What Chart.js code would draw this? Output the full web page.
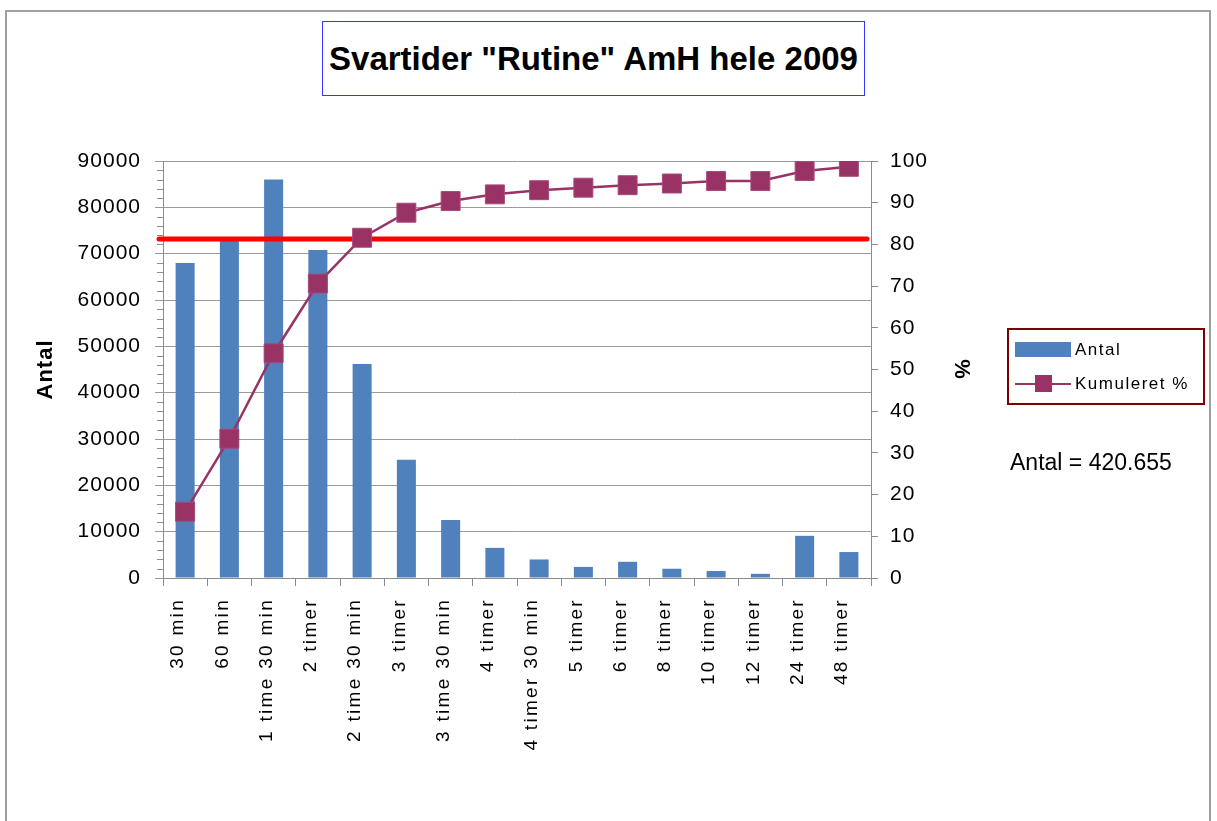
<!DOCTYPE html>
<html>
<head>
<meta charset="utf-8">
<script src="https://cdn.jsdelivr.net/npm/chart.js@4"></script>
<style>
    html, body { margin: 0; padding: 0; background: #fff; }
    body { width: 1217px; height: 821px; position: relative; overflow: hidden; font-family: "Liberation Sans", Arial, sans-serif; }
    #frame { position: absolute; left: 5px; top: 10px; width: 1206px; height: 830px; border: 2px solid #a0a0a0; box-sizing: border-box; }
    #titleBox { position: absolute; left: 322px; top: 21px; width: 543px; height: 75px; border: 1px solid #3535ff; box-sizing: border-box;
        display: flex; align-items: center; justify-content: center; white-space: nowrap;
        font-family: "Liberation Sans", Arial, sans-serif; font-weight: bold; font-size: 33px; color: #000; }
    #chartCanvas { position: absolute; left: 0; top: 0; }
    #legendBox { position: absolute; left: 1007px; top: 328px; width: 198px; height: 77px; border: 2px solid #7b0000; box-sizing: border-box; }
    .legend-item { position: absolute; left: 6px; height: 20px; font-size: 17px; letter-spacing: 1.5px; color: #000; }
    .legend-item span { position: absolute; left: 60px; top: 0; white-space: nowrap; line-height: 20px; }
    #totalText { position: absolute; left: 1010px; top: 449px; font-size: 23px; color: #000; white-space: nowrap; }
</style>
</head>
<body>
<div id="frame"></div>
<div id="titleBox">Svartider "Rutine" AmH hele 2009</div>
<canvas id="chartCanvas" width="1217" height="821"></canvas>
<div id="legendBox"></div>
<div id="totalText">Antal = 420.655</div>
<script>
    // --- Data ---
    const categories = ['30 min', '60 min', '1 time 30 min', '2 timer', '2 time 30 min', '3 timer', '3 time 30 min',
        '4 timer', '4 timer 30 min', '5 timer', '6 timer', '8 timer', '10 timer', '12 timer', '24 timer', '48 timer'];
    const antal = [68000, 73000, 86000, 70800, 46200, 25500, 12500, 6500, 4000, 2400, 3500, 2000, 1500, 900, 9100, 5600];
    const kumuleret = [15.9, 33.4, 53.9, 70.6, 81.6, 87.6, 90.4, 92.0, 93.0, 93.6, 94.2, 94.6, 95.2, 95.2, 97.6, 98.6];
    const targetLine = 81.3;   // red reference line, on the % axis
    const leftTicks = { min: 0, max: 90000, step: 10000, minorStep: 2000 };
    const rightTicks = { min: 0, max: 100, step: 10 };

    const barColor = '#4f81bd';
    const lineColor = '#993366';
    const axisColor = '#8c8c8c';
    const fontFamily = '"Liberation Sans", Arial, sans-serif';
    const tickFont = { family: fontFamily, size: 21 };
    const catFont = { family: fontFamily, size: 19 };

    // --- Plugins ---
    // Excel-like wide text: 1px everywhere, wider for the category labels
    const spacingPlugin = {
        id: 'spacing',
        beforeUpdate(chart) { chart.ctx.letterSpacing = '1px'; },
        beforeDraw(chart) { chart.ctx.letterSpacing = '1px'; },
        afterUpdate(chart) {
            const xScale = chart.scales.x;
            if (xScale._spaced) return;
            const baseDraw = xScale.drawLabels;
            xScale.drawLabels = function (area) {
                chart.ctx.letterSpacing = '2.3px';
                baseDraw.call(this, area);
                chart.ctx.letterSpacing = '1px';
            };
            xScale._spaced = true;
        }
    };

    const extrasPlugin = {
        id: 'extras',
        beforeDatasetDraw(chart, args) {
            if (args.index !== 1) return;
            const ctx = chart.ctx;
            const y = chart.scales.y2.getPixelForValue(targetLine);
            ctx.save();
            ctx.strokeStyle = '#ff0000';
            ctx.lineWidth = 5;
            ctx.lineCap = 'round';
            ctx.beginPath();
            ctx.moveTo(chart.chartArea.left - 4, y);
            ctx.lineTo(chart.chartArea.right - 4, y);
            ctx.stroke();
            ctx.restore();
        },
        afterDraw(chart) {
            // minor ticks on the left axis
            const ctx = chart.ctx;
            const scale = chart.scales.y;
            const x = chart.chartArea.left;
            ctx.save();
            ctx.strokeStyle = axisColor;
            ctx.lineWidth = 1;
            ctx.beginPath();
            for (let v = leftTicks.min; v <= leftTicks.max; v += leftTicks.minorStep) {
                if (v % leftTicks.step === 0) continue;
                const py = Math.round(scale.getPixelForValue(v)) + 0.5;
                ctx.moveTo(x - 6, py);
                ctx.lineTo(x, py);
            }
            ctx.stroke();
            ctx.restore();
        }
    };

    // --- Chart ---
    const chartCanvas = document.getElementById('chartCanvas');
    const chartInstance = new Chart(chartCanvas, {
        type: 'bar',
        data: {
            labels: categories,
            datasets: [
                {
                    label: 'Antal',
                    data: antal,
                    backgroundColor: barColor,
                    yAxisID: 'y',
                    barPercentage: 0.43,
                    categoryPercentage: 1,
                    order: 2
                },
                {
                    type: 'line',
                    label: 'Kumuleret %',
                    data: kumuleret,
                    borderColor: lineColor,
                    borderWidth: 2.5,
                    backgroundColor: lineColor,
                    pointStyle: 'rect',
                    pointRadius: 13.4,
                    pointBorderColor: '#a8497a',
                    pointBorderWidth: 1,
                    yAxisID: 'y2',
                    tension: 0,
                    order: 1
                }
            ]
        },
        options: {
            responsive: false,
            animation: false,
            layout: { padding: { left: 33, right: 243, top: 161, bottom: 0 } },
            plugins: {
                legend: { display: false },
                tooltip: { enabled: false }
            },
            scales: {
                x: {
                    grid: { display: true, drawOnChartArea: false, drawTicks: true, tickLength: 8, color: axisColor, offset: true },
                    border: { display: true, color: axisColor, width: 1 },
                    ticks: { color: '#000', font: catFont, maxRotation: 90, minRotation: 90, autoSkip: false, padding: 12, labelOffset: -7 },
                    afterFit: (scale) => { scale.height = 243; }
                },
                y: {
                    position: 'left',
                    min: leftTicks.min,
                    max: leftTicks.max,
                    grid: { color: '#9a9a9a', tickLength: 8, drawTicks: true },
                    border: { display: true, color: axisColor },
                    ticks: { stepSize: leftTicks.step, color: '#000', font: tickFont, padding: 14, callback: (value) => String(value) },
                    title: {
                        display: true, text: 'Antal', color: '#000', padding: 0,
                        font: { family: fontFamily, size: 22, weight: 'bold' }
                    },
                    afterFit: (scale) => { scale.width = 130; }
                },
                y2: {
                    position: 'right',
                    min: rightTicks.min,
                    max: rightTicks.max,
                    grid: { drawOnChartArea: false, tickLength: 7, color: axisColor },
                    border: { display: true, color: axisColor },
                    ticks: { stepSize: rightTicks.step, color: '#000', font: tickFont, padding: 12, callback: (value) => String(value) },
                    title: {
                        display: true, text: '%', color: '#000', padding: 0,
                        font: { family: fontFamily, size: 22, weight: 'bold' }
                    },
                    afterFit: (scale) => { scale.width = 103; }
                }
            }
        },
        plugins: [spacingPlugin, extrasPlugin]
    });

    // --- Legend (built from the datasets) ---
    const legendBox = document.getElementById('legendBox');
    chartInstance.data.datasets.forEach((ds, i) => {
        const item = document.createElement('div');
        item.className = 'legend-item';
        item.style.top = (i === 0 ? 10 : 44) + 'px';
        item.style.width = '186px';
        let swatch;
        if (ds.type === 'line') {
            swatch = `<div style="position:absolute;left:0;top:9px;width:56px;height:2px;background:${ds.borderColor}"></div>` +
                `<div style="position:absolute;left:20px;top:1px;width:17px;height:17px;background:${ds.backgroundColor}"></div>`;
        } else {
            swatch = `<div style="position:absolute;left:0;top:2px;width:56px;height:15px;background:${ds.backgroundColor}"></div>`;
        }
        item.innerHTML = swatch + `<span>${ds.label}</span>`;
        legendBox.appendChild(item);
    });
</script>
</body>
</html>
